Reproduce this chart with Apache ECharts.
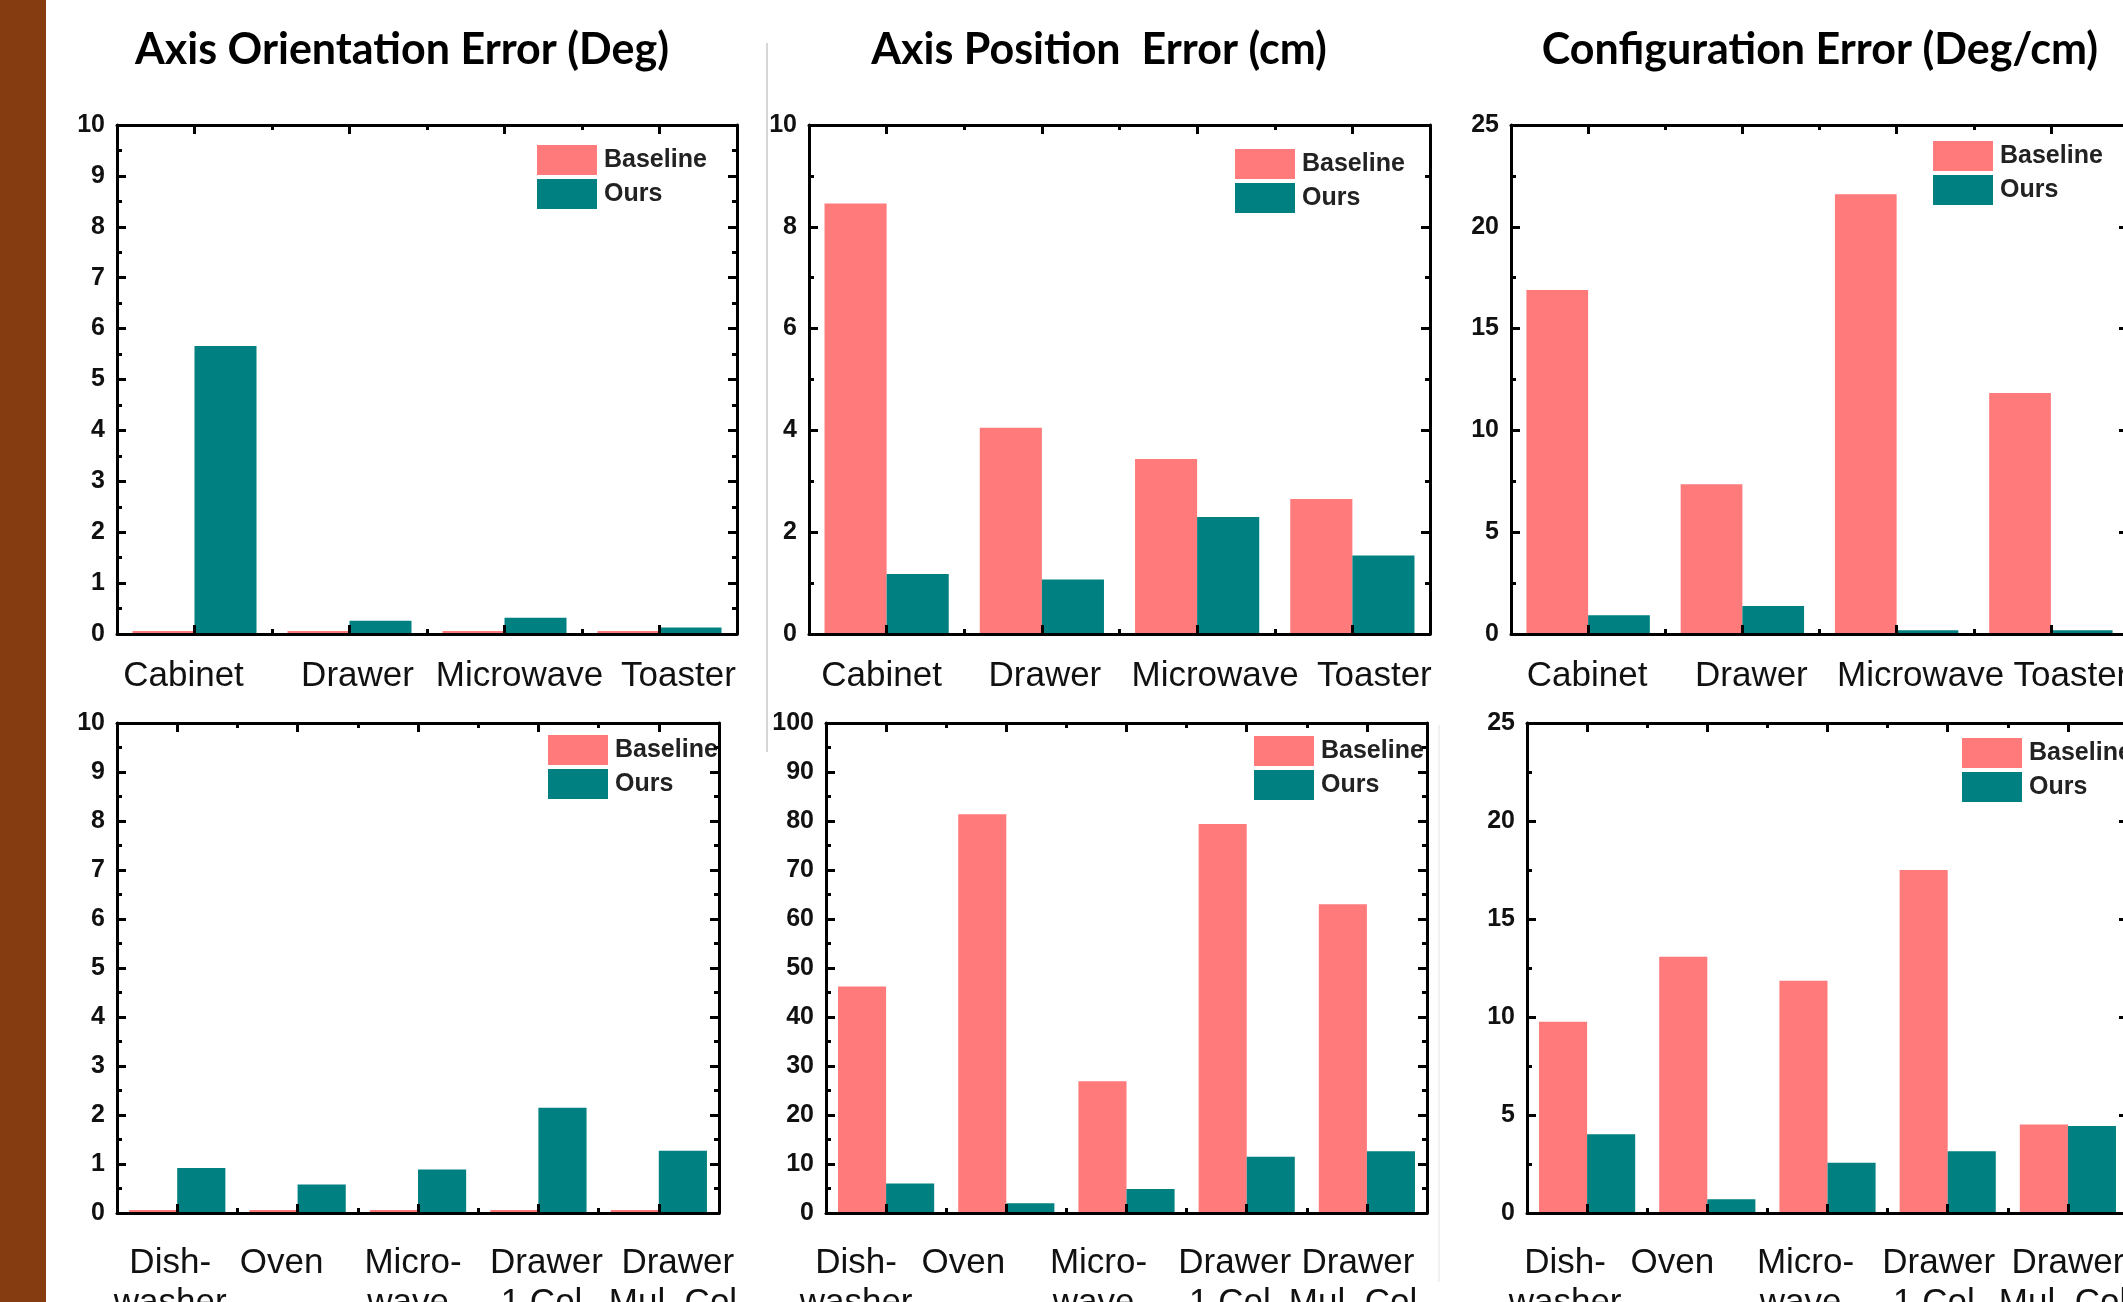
<!DOCTYPE html>
<html>
<head>
<meta charset="utf-8">
<script src="https://cdn.jsdelivr.net/npm/echarts@6/dist/echarts.min.js"></script>
<style>
html,body{margin:0;padding:0;background:#fff;}
#c{width:2123px;height:1302px;}
</style>
</head>
<body>
<div id="c"></div>
<script>
// ---- data ----
const catsTop = ['Cabinet', 'Drawer', 'Microwave', 'Toaster'];
const catsBottom = ['Dish-\nwasher', 'Oven', 'Micro-\nwave.', 'Drawer\n1 Col.', 'Drawer\nMul. Col.'];
const seriesNames = ['Baseline', 'Ours'];
const titles = ['Axis Orientation Error (Deg)', 'Axis Position  Error (cm)', 'Configuration Error (Deg/cm)'];

const orientTopBase = [0.06, 0.06, 0.06, 0.06];
const orientTopOurs = [5.66, 0.26, 0.32, 0.13];
const posTopBase = [8.46, 4.05, 3.44, 2.65];
const posTopOurs = [1.18, 1.07, 2.30, 1.54];
const confTopBase = [16.9, 7.35, 21.6, 11.84];
const confTopOurs = [0.92, 1.38, 0.18, 0.18];

const orientBotBase = [0.06, 0.06, 0.06, 0.06, 0.06];
const orientBotOurs = [0.92, 0.58, 0.89, 2.15, 1.27];
const posBotBase = [46.2, 81.4, 26.9, 79.4, 63.0];
const posBotOurs = [6.0, 2.0, 4.9, 11.5, 12.6];
const confBotBase = [9.76, 13.07, 11.85, 17.5, 4.52];
const confBotOurs = [4.02, 0.70, 2.57, 3.15, 4.44];

const yMax = [10, 10, 25, 10, 100, 25];
const yInterval = [1, 2, 5, 1, 10, 5];

// ---- layout / style ----
const C_BASE = '#FF7A7A';
const C_OURS = '#008080';
const FONT = 'Liberation Sans, Arial, sans-serif';
const panels = [
  {cats: catsTop, base: orientTopBase, ours: orientTopOurs, grid: {left: 117, top: 125, width: 620, height: 509}, legend: [537, 145], row: 0, shift: [-11, 8, 15, 19]},
  {cats: catsTop, base: posTopBase, ours: posTopOurs, grid: {left: 809, top: 125, width: 621, height: 509}, legend: [1235, 149], row: 0, shift: [-5, 3, 18, 22]},
  {cats: catsTop, base: confTopBase, ours: confTopOurs, grid: {left: 1511, top: 125, width: 617, height: 509}, legend: [1933, 141], row: 0, shift: [-1, 9, 24, 20]},
  {cats: catsBottom, base: orientBotBase, ours: orientBotOurs, grid: {left: 117, top: 723, width: 602, height: 490}, legend: [548, 735], row: 1, shift: [-7, -16, -5, 8, 19]},
  {cats: catsBottom, base: posBotBase, ours: posBotOurs, grid: {left: 826, top: 723, width: 601, height: 490}, legend: [1254, 736], row: 1, shift: [-30, -43, -28, -12, -9]},
  {cats: catsBottom, base: confBotBase, ours: confBotOurs, grid: {left: 1527, top: 723, width: 601, height: 490}, legend: [1962, 738], row: 1, shift: [-22, -35, -22, -9, 0]}
];

const grids = [], xAxes = [], yAxes = [], series = [], legends = [];
const lineStyle = {color: '#000', width: 3};

panels.forEach((p, i) => {
  grids.push(Object.assign({containLabel: false, outerBoundsMode: 'none'}, p.grid));
  const xBase = xAxes.length;
  const rich = {};
  p.shift.forEach((d, k) => {
    rich['s' + k] = {
      fontFamily: FONT, fontSize: 35, lineHeight: 40, color: '#111',
      padding: [0, d < 0 ? -2 * d : 0, 0, d > 0 ? 2 * d : 0]
    };
  });
  // main bottom axis with labels and major ticks at category centers
  xAxes.push({
    type: 'category', gridIndex: i, position: 'bottom', data: p.cats, z: 10,
    axisLine: {show: true, onZero: false, lineStyle: lineStyle},
    axisTick: {show: true, inside: true, alignWithLabel: true, length: 9, lineStyle: {color: '#000', width: 3}},
    axisLabel: {
      show: true, interval: 0, color: '#111',
      fontFamily: FONT, fontSize: 35, lineHeight: 40,
      margin: p.row === 0 ? 22 : 30,
      formatter: (v, idx) => '{s' + idx + '|' + v + '}',
      rich: rich
    },
    splitLine: {show: false}
  });
  // top mirror axis, major ticks
  xAxes.push({
    type: 'category', gridIndex: i, position: 'top', data: p.cats, z: 10,
    axisLine: {show: true, onZero: false, lineStyle: lineStyle},
    axisTick: {show: true, inside: true, alignWithLabel: true, length: 9, lineStyle: {color: '#000', width: 3}},
    axisLabel: {show: false}, splitLine: {show: false}
  });
  // minor ticks at category boundaries (bottom and top)
  ['bottom', 'top'].forEach(pos => {
    xAxes.push({
      type: 'category', gridIndex: i, position: pos, data: p.cats, z: 10,
      axisLine: {show: false, onZero: false},
      axisTick: {show: true, inside: true, length: 5, lineStyle: {color: '#000', width: 3}},
      axisLabel: {show: false}, splitLine: {show: false}
    });
  });
  const yBase = yAxes.length;
  ['left', 'right'].forEach((pos, k) => {
    yAxes.push({
      type: 'value', gridIndex: i, position: pos, min: 0, max: yMax[i], interval: yInterval[i], z: 10,
      axisLine: {show: true, onZero: false, lineStyle: lineStyle},
      axisTick: {show: true, inside: true, length: 9, lineStyle: {color: '#000', width: 3}},
      minorTick: {show: true, splitNumber: 2, length: 5, lineStyle: {color: '#000', width: 3}},
      axisLabel: {
        show: k === 0, color: '#111', fontWeight: 'bold',
        fontFamily: FONT, fontSize: p.row === 0 ? 25 : 25, margin: 12
      },
      splitLine: {show: false}, minorSplitLine: {show: false}
    });
  });
  [p.base, p.ours].forEach((vals, k) => {
    series.push({
      type: 'bar', name: seriesNames[k], xAxisIndex: xBase, yAxisIndex: yBase,
      data: vals, barCategoryGap: '20%', barGap: '0%', z: 2,
      itemStyle: {color: k === 0 ? C_BASE : C_OURS},
      emphasis: {disabled: true}
    });
  });
  legends.push({
    data: seriesNames, orient: 'vertical', left: p.legend[0], top: p.legend[1],
    itemWidth: 60, itemHeight: 30, itemGap: 4, icon: 'rect', padding: 0,
    selectedMode: false,
    textStyle: {fontSize: 25, fontWeight: 'bold', color: '#222', fontFamily: FONT, padding: [0, 0, 0, 2]}
  });
});

const titleX = [402, 1099, 1820];
const graphics = [
  {type: 'rect', shape: {x: 0, y: 0, width: 46, height: 1302}, style: {fill: '#843C10'}, silent: true},
  {type: 'line', shape: {x1: 767, y1: 43, x2: 767, y2: 752}, style: {stroke: '#c8c8c8', lineWidth: 1.5}, silent: true},
  {type: 'line', shape: {x1: 1439, y1: 725, x2: 1439, y2: 1282}, style: {stroke: '#ececec', lineWidth: 1.5}, silent: true}
];
titles.forEach((t, i) => {
  graphics.push({
    type: 'text', silent: true,
    style: {
      x: titleX[i], y: 50, text: t, align: 'center', verticalAlign: 'middle',
      fontFamily: 'Lato, sans-serif', fontWeight: 'bold', fontSize: 43, fill: '#000'
    }
  });
});

const chart = echarts.init(document.getElementById('c'), null, {renderer: 'canvas'});
chart.setOption({
  animation: false,
  backgroundColor: '#fff',
  grid: grids,
  xAxis: xAxes,
  yAxis: yAxes,
  series: series,
  legend: legends,
  graphic: graphics
});
</script>
</body>
</html>
